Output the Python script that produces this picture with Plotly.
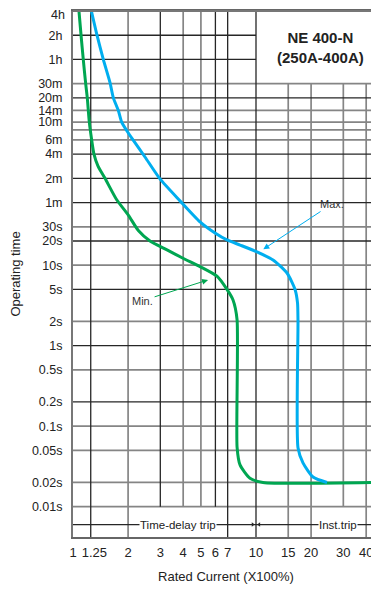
import math
import plotly.graph_objects as go

# ---------------- data ----------------
X_TICKS = [1, 1.25, 2, 3, 4, 5, 6, 7, 10, 15, 20, 30, 40]
X_TICK_LABELS = ["1", "\u00a0\u00a01.25", "2", "3", "4", "5", "6", "7", "10", "15", "20", "30", "40"]

Y_TICKS = [14400, 7200, 3600, 1800, 1200, 840, 600, 360, 240, 120, 60, 30, 20, 10,
           5, 2, 1, 0.5, 0.2, 0.1, 0.05, 0.02, 0.01]
Y_TICK_LABELS = ["4h", "2h", "1h", "30m", "20m", "14m", "10m", "6m", "4m", "2m", "1m",
                 "30s", "20s", "10s", "5s", "2s", "1s", "0.5s", "0.2s", "0.1s",
                 "0.05s", "0.02s", "0.01s"]

X_GRID_DARK = [1.25, 3, 6, 7, 10]
X_GRID_GRAY = [2, 4, 5, 15, 20, 30, 40]
X_GRID_FULL = [1.25, 2, 7, 10, 15, 20, 40]
Y_GRID_DARK = [7200, 3600, 1200, 240, 120, 60, 20, 5, 1, 0.2]
Y_GRID_GRAY = [1800, 840, 600, 480, 360, 30, 10, 2, 0.5, 0.1, 0.05, 0.02, 0.01]

# Min. curve (multiple of rated current, seconds)
MIN_X = [1.078, 1.106, 1.138, 1.173, 1.197, 1.228, 1.265, 1.302, 1.37, 1.496, 1.733,
         2.005, 2.275, 2.635, 3.264, 3.992, 4.943, 6.12, 6.94, 7.49, 7.88, 7.88, 8.18,
         9.27, 10.92, 47]
MIN_T = [14400, 7300, 3600, 1800, 1200, 600, 360, 240, 170, 120, 65,
         42, 27, 20, 15.5, 12.2, 9.6, 7.3, 5.0, 3.7, 2.1, 0.055, 0.033,
         0.0225, 0.02, 0.02]

# Max. curve
MAX_X = [1.26, 1.347, 1.464, 1.593, 1.661, 1.768, 1.845, 1.973, 2.128, 2.474, 2.988,
         3.843, 4.943, 5.97, 6.94, 8.18, 10.13, 12.39, 14.77, 16.34, 16.86, 16.96,
         16.96, 18.06, 20.49, 24.43]
MAX_T = [14400, 7500, 3600, 1850, 1200, 840, 600, 465, 360, 221, 118,
         63, 34.5, 25.1, 20.6, 17.8, 14.6, 11.6, 8.0, 5.0, 3.4, 2.0,
         0.054, 0.035, 0.0234, 0.02]

TRIP_Y = 0.006
BOX_X = 10
BOX_Y = 1800

X_RANGE = [0, math.log10(47)]
Y_RANGE = [math.log10(0.0042), math.log10(14400)]

GREEN = "#00A651"
BLUE = "#00AEEF"
DARK = "#262626"
GRAY = "#858585"
FONT = "Liberation Sans, Arial, sans-serif"

xmin, xmax = 10 ** X_RANGE[0], 10 ** X_RANGE[1]
ymin, ymax = 10 ** Y_RANGE[0], 10 ** Y_RANGE[1]


def grid(xs, ys):
    gx, gy = [], []
    for x in xs:
        y0 = ymin if x in X_GRID_FULL else 0.01
        y1 = BOX_Y if x > BOX_X else ymax
        gx += [x, x, None]
        gy += [y0, y1, None]
    for y in ys:
        x1 = BOX_X if y > BOX_Y else xmax
        gx += [xmin, x1, None]
        gy += [y, y, None]
    return gx, gy


fig = go.Figure()
gx, gy = grid(X_GRID_GRAY, Y_GRID_GRAY)
fig.add_trace(go.Scatter(x=gx, y=gy, mode="lines", line=dict(color=GRAY, width=1.7),
                         hoverinfo="skip", showlegend=False))
gx, gy = grid(X_GRID_DARK, Y_GRID_DARK)
fig.add_trace(go.Scatter(x=gx, y=gy, mode="lines", line=dict(color=DARK, width=1.3),
                         hoverinfo="skip", showlegend=False))
fig.add_trace(go.Scatter(x=[xmin, xmax], y=[TRIP_Y, TRIP_Y], mode="lines",
                         line=dict(color=DARK, width=1.3), hoverinfo="skip",
                         showlegend=False))
fig.add_trace(go.Scatter(x=[9.6, 10.4], y=[TRIP_Y, TRIP_Y], mode="markers",
                         marker=dict(symbol=["triangle-right", "triangle-left"],
                                     size=4, color=DARK),
                         hoverinfo="skip", showlegend=False))
fig.add_trace(go.Scatter(x=MIN_X, y=MIN_T, mode="lines", name="Min.",
                         line=dict(color=GREEN, width=3, shape="spline", smoothing=0.6),
                         showlegend=False))
fig.add_trace(go.Scatter(x=MAX_X, y=MAX_T, mode="lines", name="Max.",
                         line=dict(color=BLUE, width=3, shape="spline", smoothing=0.6),
                         showlegend=False))

L = math.log10
fig.add_annotation(x=L(10.96), y=L(15.8), ax=L(26.0), ay=L(57.6), axref="x", ayref="y",
                   text="Max.", showarrow=True, arrowhead=2, arrowsize=1.2,
                   arrowwidth=1, arrowcolor=BLUE, standoff=0,
                   font=dict(family=FONT, size=11, color="#333"))
fig.add_annotation(x=L(5.47), y=L(6.56), ax=L(2.40), ay=L(3.63), axref="x", ayref="y",
                   text="Min.", showarrow=True, arrowhead=2, arrowsize=1.2,
                   arrowwidth=1, arrowcolor=GREEN, standoff=0,
                   font=dict(family=FONT, size=11, color="#333"))
fig.add_annotation(x=L(3.75), y=L(TRIP_Y), text="Time-delay trip", showarrow=False,
                   bgcolor="white", borderpad=0,
                   font=dict(family=FONT, size=11.5, color="#222"))
fig.add_annotation(x=L(28), y=L(TRIP_Y), text="Inst.trip", showarrow=False,
                   bgcolor="white", borderpad=0,
                   font=dict(family=FONT, size=11.5, color="#222"))
fig.add_annotation(x=L(22.4), y=L(5000), xanchor="center", yanchor="middle",
                   text="<b>NE 400-N<br>(250A-400A)</b>", showarrow=False,
                   font=dict(family=FONT, size=15, color="#222"))

# the top tick label sits a little below its tick (as in the reference),
# so it is written as an annotation at that tick
fig.add_annotation(x=0, xref="paper", y=L(Y_TICKS[0]), yref="y", xanchor="right",
                   yanchor="middle", xshift=-6, yshift=-4, text=Y_TICK_LABELS[0],
                   showarrow=False, font=dict(family=FONT, size=12.5, color="#222"))
axis_y_text = [""] + Y_TICK_LABELS[1:]

# top border of the plot frame
fig.add_shape(type="line", xref="paper", yref="paper", x0=0, x1=1, y0=1, y1=1,
              line=dict(color="#777", width=2), layer="above")

# The page body adds an 8 px offset; the figure is sized so that the plot
# lands where the reference plot is.
fig.update_layout(
    width=371, height=581,
    margin=dict(l=65, r=0, t=3, b=52, autoexpand=False),
    paper_bgcolor="white", plot_bgcolor="white",
    font=dict(family=FONT, size=13, color="#222"),
    showlegend=False,
    xaxis=dict(type="log", range=X_RANGE, tickmode="array", tickvals=X_TICKS,
               ticktext=X_TICK_LABELS, showgrid=False, zeroline=False,
               showline=True, linecolor="#666", linewidth=2, mirror=True,
               ticks="", ticklabelstandoff=2, tickangle=0, automargin=False,
               ticklabeloverflow="allow",
               title=dict(text="Rated Current (X100%)", standoff=13,
                          font=dict(size=13))),
    yaxis=dict(type="log", range=Y_RANGE, tickmode="array", tickvals=Y_TICKS,
               ticktext=axis_y_text, showgrid=False, zeroline=False,
               showline=True, linecolor="#777", linewidth=2, mirror=False,
               ticks="", ticklabelstandoff=6, automargin=False,
               ticklabeloverflow="allow",
               tickfont=dict(size=12.5),
               title=dict(text="Operating time", standoff=11, font=dict(size=13))),
)

fig.write_html("out.html")
